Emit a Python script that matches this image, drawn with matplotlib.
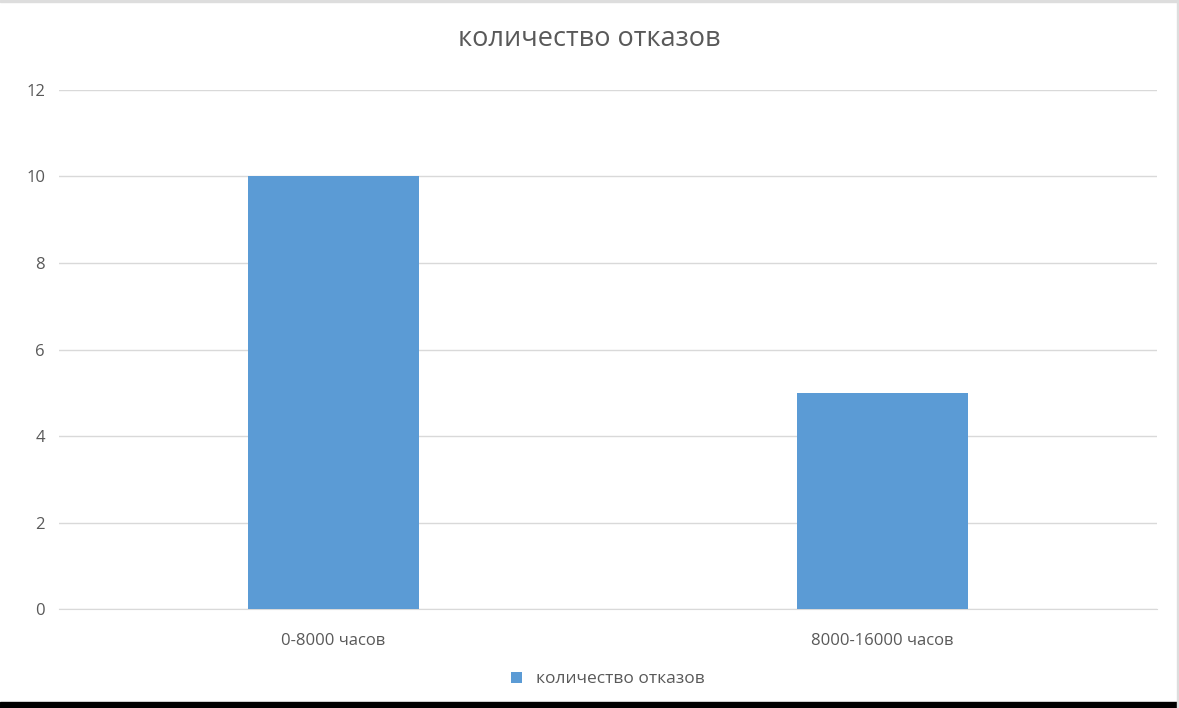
import matplotlib.pyplot as plt
from matplotlib.patches import Rectangle

# данные
categories = ['0-8000 часов', '8000-16000 часов']
failures = [10, 5]
series_name = 'количество отказов'
title = 'количество отказов'
y_ticks = [0, 2, 4, 6, 8, 10, 12]

plt.rcParams['font.family'] = ['Open Sans', 'DejaVu Sans']

fig = plt.figure(figsize=(11.79, 7.08), dpi=100)
ax = fig.add_axes([0.050, 0.1398, 0.9313, 0.7331])

bar_color = '#5b9bd5'
ax.bar(range(len(categories)), failures, width=0.31, color=bar_color,
       label=series_name, zorder=3)

ax.set_xlim(-0.5, len(categories) - 0.5)
ax.set_ylim(0, 12)
ax.set_yticks(y_ticks)
ax.set_xticks(range(len(categories)))
ax.set_xticklabels(categories)

ax.grid(axis='y', color='#d9d9d9', linewidth=1.0, zorder=0)
for s in ['top', 'right', 'left']:
    ax.spines[s].set_visible(False)
ax.spines['bottom'].set_color('#d9d9d9')
ax.tick_params(axis='both', length=0, colors='#595959', labelsize=12)
ax.tick_params(axis='y', pad=10)
ax.tick_params(axis='x', pad=17)

fig.suptitle(title, x=0.5, y=0.965, fontsize=19.5, color='#595959')

ax.legend(loc='upper center', bbox_to_anchor=(0.5, -0.09), frameon=False,
          fontsize=12.5, labelcolor='#595959', handlelength=0.6,
          handleheight=0.6, handletextpad=0.8)

# рамка скриншота
fig.patches.append(Rectangle((0, 0), 1, 6 / 708, transform=fig.transFigure,
                             color='black', zorder=10))
fig.patches.append(Rectangle((0, 1 - 2 / 708), 1, 2 / 708, transform=fig.transFigure,
                             color='#dddddd', zorder=10))
fig.patches.append(Rectangle((1 - 2 / 1179, 0), 2 / 1179, 1, transform=fig.transFigure,
                             color='#dddddd', zorder=10))

fig.savefig('out.png', dpi=100)
